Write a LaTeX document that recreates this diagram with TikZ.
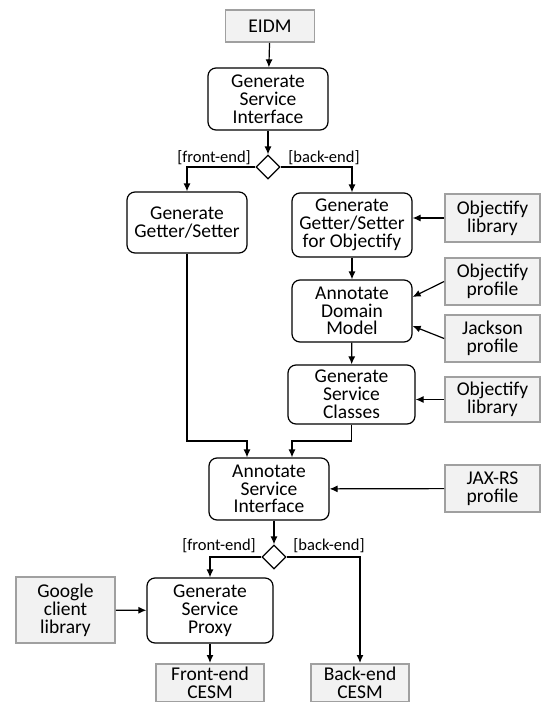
\documentclass[tikz,border=0pt]{standalone}
\usepackage{fontspec}
\setmainfont{Carlito}
\usetikzlibrary{shapes.geometric, arrows.meta}
\definecolor{artfill}{HTML}{F2F2F2}
\definecolor{artline}{HTML}{A0A0A0}
\begin{document}
\begin{tikzpicture}[>={Latex[length=8pt,width=7pt]}, x=1pt, y=-1pt, line width=1.2pt,
        action/.style={draw, rounded corners=8pt, align=center, inner sep=0pt,
            minimum width=120pt, minimum height=62pt, font=\fontsize{19.5}{17.8}\selectfont},
        artifact/.style={draw=artline, fill=artfill, line width=1.8pt, align=center, inner sep=0pt,
            minimum width=95pt, minimum height=47pt, font=\fontsize{19.5}{17.8}\selectfont},
        choice/.style={draw, diamond, aspect=1, inner sep=0pt, minimum size=24pt},
        guard/.style={font=\fontsize{16.5}{18}\selectfont, inner sep=0pt}]
        \clip (0,0) rectangle (542,702);

        % main flow
        \node[artifact, minimum width=89pt, minimum height=32pt] (eidm) at (270,26) {EIDM};
        \node[action] (gen-iface) at (268,99) {Generate\\Service\\Interface};
        \node[choice] (choice-1) at (268,167) {};
        \node[guard] (guard-front-1) at (214,158) {[front-end]};
        \node[guard] (guard-back-1) at (324,158) {[back-end]};

        \node[action, minimum height=61pt] (gen-gs) at (187,222.5) {Generate\\Getter/Setter};
        \node[action, minimum height=64pt] (gen-gs-obj) at (352,225) {Generate\\Getter/Setter\\for Objectify};
        \node[action] (ann-dom) at (352,311) {Annotate\\Domain\\Model};
        \node[action, minimum width=127pt, minimum height=59pt] (gen-cls) at (351.5,394.5) {Generate\\Service\\Classes};
        \node[action] (ann-iface) at (269,489) {Annotate\\Service\\Interface};
        \node[choice] (choice-2) at (274,557) {};
        \node[guard] (guard-front-2) at (219,546) {[front-end]};
        \node[guard] (guard-back-2) at (329,546) {[back-end]};
        \node[action, minimum width=126pt, minimum height=65pt] (gen-proxy) at (210,610.5) {Generate\\Service\\Proxy};
        \node[artifact, minimum width=108pt, minimum height=38pt, anchor=north] (fe-cesm) at (210,663) {Front-end\\CESM};
        \node[artifact, minimum width=98pt, minimum height=38pt, anchor=north] (be-cesm) at (360,663) {Back-end\\CESM};

        % inputs
        \node[artifact, minimum height=48pt] (obj-lib-1) at (492.5,218) {Objectify\\library};
        \node[artifact] (obj-prof) at (492.5,281.5) {Objectify\\profile};
        \node[artifact] (jackson-prof) at (492.5,338.5) {Jackson\\profile};
        \node[artifact, minimum height=45pt] (obj-lib-2) at (492.5,399.5) {Objectify\\library};
        \node[artifact] (jaxrs-prof) at (492.5,488.5) {JAX-RS\\profile};
        \node[artifact, minimum width=99pt, minimum height=66pt] (google-lib) at (65.5,610) {Google\\client\\library};

        \coordinate (join-1) at (247,441);
        \coordinate (join-2) at (292,441);

        \draw[->] (eidm) -- (gen-iface);
        \draw[->] (gen-iface) -- (choice-1);
        \draw[->] (choice-1.west) -| (gen-gs);
        \draw[->] (choice-1.east) -| (gen-gs-obj);
        \draw[->] (obj-lib-1.west) -- (obj-lib-1.west -| gen-gs-obj.east);
        \draw[->] (gen-gs-obj) -- (ann-dom);
        \draw[->] (obj-prof.west) -- ([yshift=14pt]ann-dom.east);
        \draw[->] (jackson-prof.west) -- ([yshift=-15pt]ann-dom.east);
        \draw[->] (ann-dom) -- (gen-cls);
        \draw[->] (obj-lib-2.west) -- (obj-lib-2.west -| gen-cls.east);
        \draw[->] (gen-gs.south) |- (join-1) -- (join-1 |- ann-iface.north);
        \draw[->] (gen-cls.south) |- (join-2) -- (join-2 |- ann-iface.north);
        \draw[->] (jaxrs-prof) -- (ann-iface);
        \draw[->] (choice-2 |- ann-iface.south) -- (choice-2.north);
        \draw[->] (choice-2.west) -| (gen-proxy);
        \draw[->] (choice-2.east) -| (be-cesm);
        \draw[->] (google-lib) -- (gen-proxy);
        \draw[->] (gen-proxy) -- (fe-cesm);
    \end{tikzpicture}
\end{document}
